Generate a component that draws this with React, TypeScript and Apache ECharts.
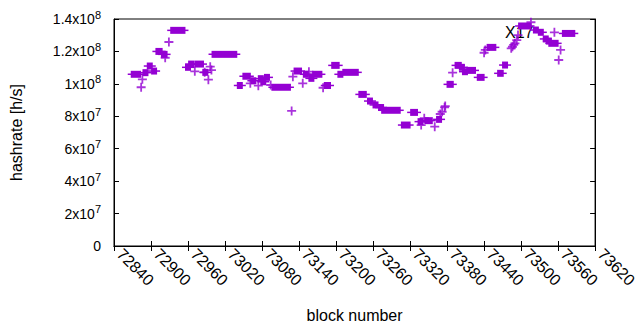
import React, { useEffect, useRef } from "react";
import * as echarts from "echarts";

const xMin = 72840;
const xMax = 73620;
const xStep = 60;
const yMax = 1.4e8;
const yStep = 2e7;

// flat runs of equal hashrate (first block, last block, value)
const runStart = [72872, 72891, 72898, 72905, 72912, 72921, 72936, 72960, 72965, 72975, 72988, 73003, 73044, 73053, 73066, 73078, 73082, 73088, 73100, 73136, 73151, 73160, 73166, 73185, 73197, 73207, 73215, 73241, 73255, 73264, 73273, 73278, 73310, 73325, 73337, 73348, 73367, 73384, 73397, 73404, 73409, 73416, 73433, 73449, 73466, 73474, 73500, 73524, 73532, 73540, 73545, 73549, 73571];
const runEnd = [72879, 72891, 72898, 72905, 72914, 72922, 72951, 72960, 72965, 72981, 72988, 73035, 73044, 73057, 73066, 73078, 73082, 73088, 73122, 73140, 73151, 73160, 73173, 73187, 73201, 73207, 73232, 73245, 73255, 73264, 73273, 73300, 73316, 73328, 73337, 73352, 73367, 73386, 73399, 73404, 73409, 73422, 73436, 73455, 73467, 73474, 73512, 73524, 73532, 73540, 73545, 73556, 73583];
const runValue = [1.059e8, 1.069e8, 1.11e8, 1.079e8, 1.2e8, 1.182e8, 1.33e8, 1.102e8, 1.122e8, 1.122e8, 1.071e8, 1.182e8, 0.99e8, 1.047e8, 1.019e8, 1.032e8, 1.013e8, 1.04e8, 0.979e8, 1.079e8, 1.059e8, 1.034e8, 1.059e8, 0.99e8, 1.114e8, 1.059e8, 1.071e8, 0.935e8, 0.894e8, 0.87e8, 0.854e8, 0.837e8, 0.746e8, 0.824e8, 0.767e8, 0.773e8, 0.781e8, 0.997e8, 1.114e8, 1.102e8, 1.075e8, 1.083e8, 1.04e8, 1.225e8, 1.065e8, 1.116e8, 1.357e8, 1.332e8, 1.318e8, 1.277e8, 1.264e8, 1.25e8, 1.311e8];

// single blocks
const pointBlock = [72884, 72886, 72923, 72929, 72971, 72987, 72993, 72996, 72998, 73061, 73074, 73094, 73128, 73130, 73146, 73156, 73179, 73338, 73343, 73360, 73369, 73372, 73376, 73377, 73389, 73440, 73442, 73484, 73486, 73488, 73490, 73493, 73495, 73516, 73554, 73561, 73564];
const pointValue = [0.979e8, 1.028e8, 1.161e8, 1.258e8, 1.077e8, 1.071e8, 1.026e8, 1.106e8, 1.085e8, 1.003e8, 0.989e8, 0.993e8, 0.833e8, 1.044e8, 1.003e8, 1.075e8, 0.976e8, 0.746e8, 0.788e8, 0.736e8, 0.814e8, 0.828e8, 0.855e8, 0.863e8, 1.069e8, 1.192e8, 1.209e8, 1.219e8, 1.229e8, 1.24e8, 1.25e8, 1.27e8, 1.301e8, 1.38e8, 1.318e8, 1.147e8, 1.209e8];

const xAxisTitle = "block number";
const yAxisTitle = "hashrate [h/s]";
const noteText = "X17";

const COLOR = "#9400d3";
const FONT = "Liberation Sans";
const PLUS = "path://M0,3.6H3.6V0H5.4V3.6H9V5.4H5.4V9H3.6V5.4H0Z";

export default function App() {
  const ref = useRef<HTMLDivElement>(null);
  useEffect(() => {
    const chart = echarts.init(ref.current!, null, { renderer: "svg" });
    const runs = runStart.map((s, i) => [s, runEnd[i], runValue[i]]);
    const pts = pointBlock.map((b, i) => [b, pointValue[i]]);
    const yfmt = (v: number) => {
      if (v === 0) return "{a|0}";
      const e = Math.floor(Math.log10(v) + 1e-9);
      const m = +(v / Math.pow(10, e)).toFixed(1);
      return `{a|${m}x10}{s|${e}}`;
    };
    const axisLine = { show: true, lineStyle: { color: "#000", width: 1 } };
    const tick = { show: true, inside: true, length: 5, lineStyle: { color: "#000" } };
    chart.setOption({
      animation: false,
      grid: { left: 114, right: 31, top: 19, bottom: 84, show: true, borderColor: "#000", borderWidth: 1 },
      xAxis: [
        {
          type: "value", min: xMin, max: xMax, interval: xStep, position: "bottom",
          name: xAxisTitle, nameLocation: "middle", nameGap: 61,
          nameTextStyle: { fontSize: 16, fontFamily: FONT, color: "#000" },
          axisLine, axisTick: tick, splitLine: { show: false },
          axisLabel: {
            rotate: -45, margin: 11, align: "left", verticalAlign: "bottom",
            fontSize: 16, fontFamily: FONT, color: "#000",
            showMinLabel: true, showMaxLabel: true, formatter: (v: number) => String(v),
          },
        },
        {
          type: "value", min: xMin, max: xMax, interval: xStep, position: "top",
          axisLine, axisTick: tick, splitLine: { show: false }, axisLabel: { show: false },
        },
      ],
      yAxis: [
        {
          type: "value", min: 0, max: yMax, interval: yStep, position: "left",
          name: yAxisTitle, nameLocation: "middle", nameGap: 90, nameRotate: 90,
          nameTextStyle: { fontSize: 16, fontFamily: FONT, color: "#000" },
          axisLine, axisTick: tick, splitLine: { show: false },
          axisLabel: {
            margin: 13, formatter: yfmt, color: "#000",
            rich: {
              a: { fontSize: 14, fontFamily: FONT, color: "#000", lineHeight: 20 },
              s: { fontSize: 11, fontFamily: FONT, color: "#000", lineHeight: 12, verticalAlign: "top" },
            },
          },
        },
        {
          type: "value", min: 0, max: yMax, interval: yStep, position: "right",
          axisLine, axisTick: tick, splitLine: { show: false }, axisLabel: { show: false },
        },
      ],
      graphic: [
        { type: "text", left: 505, top: 24, z: 0, style: { text: noteText, fontSize: 16, fontFamily: FONT, fill: "#000" } },
      ],
      series: [
        {
          type: "custom",
          data: runs,
          encode: { x: [0, 1], y: 2 },
          renderItem: (params: any, api: any) => {
            const a = api.coord([api.value(0), api.value(2)]);
            const b = api.coord([api.value(1), api.value(2)]);
            return {
              type: "group",
              children: [
                { type: "rect", shape: { x: a[0] - 3, y: a[1] - 3.5, width: b[0] - a[0] + 6, height: 7 }, style: { fill: COLOR } },
                { type: "rect", shape: { x: a[0] - 6, y: a[1] - 0.75, width: b[0] - a[0] + 12, height: 1.5 }, style: { fill: COLOR } },
              ],
            };
          },
        },
        {
          type: "scatter",
          symbol: PLUS,
          symbolSize: 9,
          itemStyle: { color: COLOR },
          data: pts,
        },
      ],
    });
    return () => chart.dispose();
  }, []);
  return <div ref={ref} style={{ position: "absolute", left: 0, top: 0, width: 640, height: 330 }} />;
}
